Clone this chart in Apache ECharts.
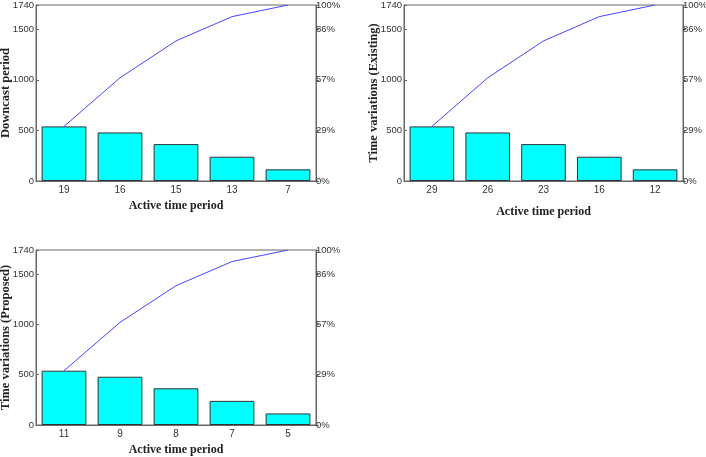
<!DOCTYPE html>
<html><head><meta charset="utf-8">
<script src="https://cdn.jsdelivr.net/npm/echarts@6/dist/echarts.min.js"></script>
<style>html,body{margin:0;padding:0;background:#fff}#c{width:706px;height:457px}</style>
</head><body><div id="c"></div>
<script>
const catsDowncast = ['19','16','15','13','7'];
const catsExisting = ['29','26','23','16','12'];
const catsProposed = ['11','9','8','7','5'];
const barValues = [540, 480, 365, 240, 115];
const cumulative = [540, 1020, 1385, 1625, 1740];
const leftTicks = [0, 500, 1000, 1500, 1740];
const pctLabels = ['0%', '29%', '57%', '86%', '100%'];
const yTitles = ['Downcast period', 'Time variations (Existing)', 'Time variations (Proposed)'];
const xTitle = 'Active time period';
const yMax = 1740;

const tickFont = {fontFamily: 'Liberation Sans, Arial, sans-serif', fontSize: 9.5, color: '#333'};
const titleFont = {fontFamily: 'Liberation Serif, serif', fontWeight: 'bold', color: '#222'};

const grids = [
  {left: 36, right: 390, top: 5, bottom: 276},
  {left: 404, right: 23, top: 5, bottom: 276},
  {left: 36, right: 390, top: 250, bottom: 32}
];
const cats = [catsDowncast, catsExisting, catsProposed];
const xGaps = [19, 25, 19];

const option = {
  animation: false,
  grid: grids.map(g => Object.assign({show: true, borderColor: '#666', borderWidth: 1, containLabel: false, outerBoundsMode: 'none'}, g)),
  xAxis: cats.map((c, i) => ({
    type: 'category', gridIndex: i, data: c,
    name: xTitle, nameLocation: 'middle', nameGap: xGaps[i],
    nameTextStyle: Object.assign({fontSize: 12}, titleFont),
    axisLine: {lineStyle: {color: '#666'}}, axisTick: {show: false},
    axisLabel: Object.assign({margin: 4, fontSize: 10}, tickFont, {fontSize: 10})
  })),
  yAxis: [],
  series: []
};
for (let i = 0; i < 3; i++) {
  option.yAxis.push({
    type: 'value', gridIndex: i, min: 0, max: yMax, interval: 500,
    name: yTitles[i], nameLocation: 'middle', nameGap: 24, nameMoveOverlap: false,
    nameTextStyle: Object.assign({fontSize: 12.5}, titleFont),
    axisLine: {show: true, lineStyle: {color: '#666'}},
    axisTick: {show: true, inside: true, length: 3, lineStyle: {color: '#666'}},
    splitLine: {show: false},
    axisLabel: Object.assign({margin: 2, showMaxLabel: true, formatter: v => String(v)}, tickFont)
  });
  option.yAxis.push({
    type: 'value', gridIndex: i, position: 'right', min: 0, max: yMax, interval: 500,
    axisLine: {show: true, lineStyle: {color: '#666'}},
    axisTick: {show: true, length: 3, lineStyle: {color: '#666'}},
    splitLine: {show: false},
    axisLabel: Object.assign({margin: 0, showMaxLabel: true,
      formatter: v => pctLabels[leftTicks.indexOf(v)] || ''}, tickFont)
  });
  option.series.push({
    type: 'bar', xAxisIndex: i, yAxisIndex: 2 * i, data: barValues,
    barCategoryGap: '20%',
    itemStyle: {color: '#00ffff', borderColor: '#333', borderWidth: 1}
  });
  option.series.push({
    type: 'line', xAxisIndex: i, yAxisIndex: 2 * i, data: cumulative,
    symbol: 'none', lineStyle: {color: '#4444ff', width: 1}
  });
}
echarts.init(document.getElementById('c'), null, {renderer: 'canvas'}).setOption(option);
</script></body></html>
